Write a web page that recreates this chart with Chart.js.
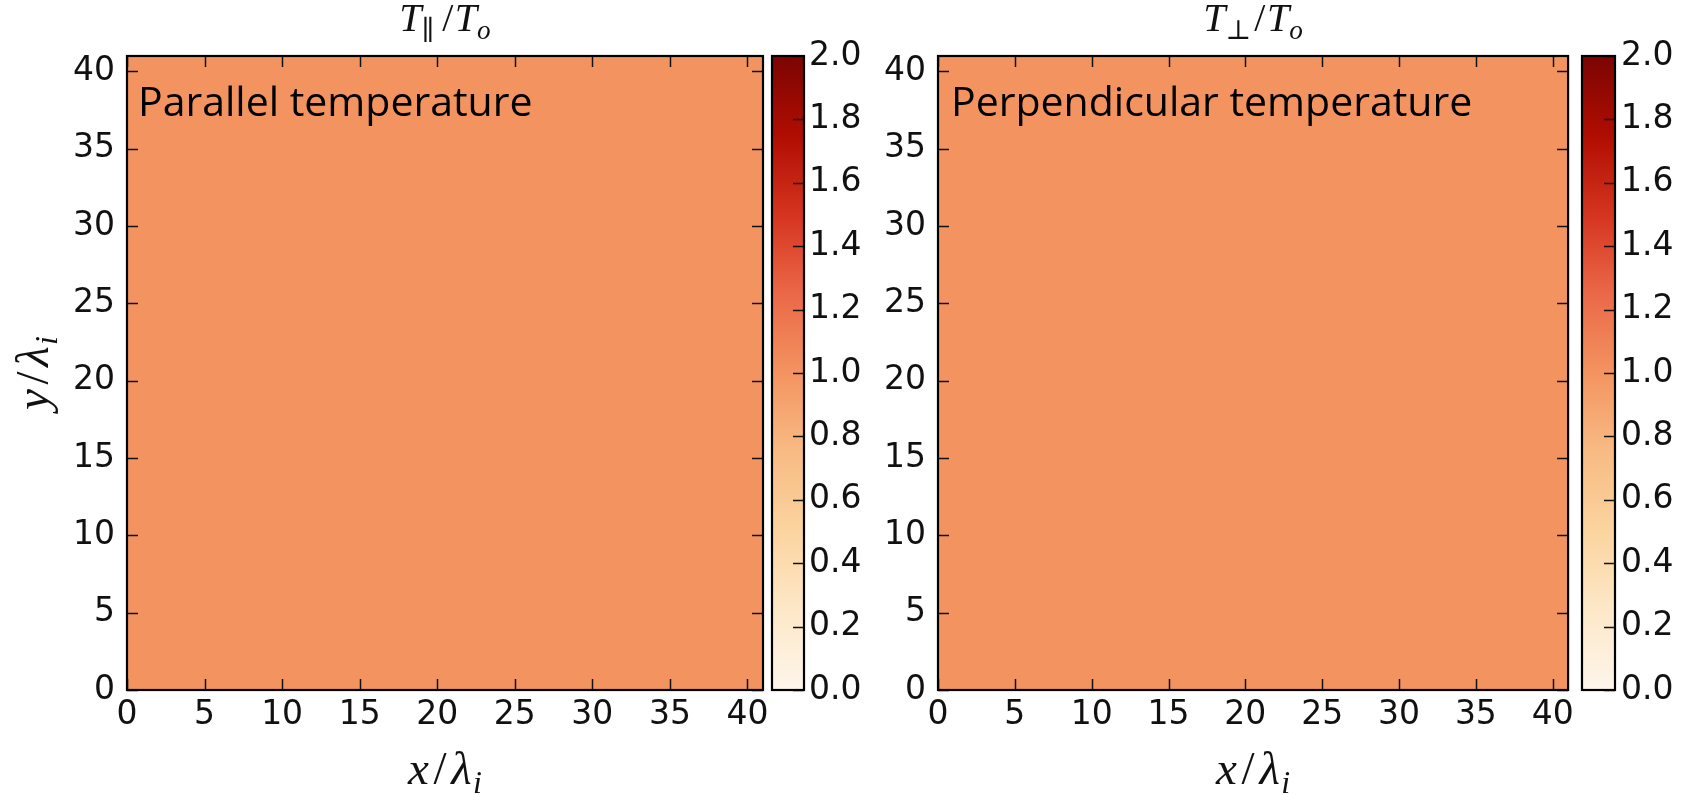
<!DOCTYPE html>
<html><head><meta charset="utf-8">
<script src="https://cdn.jsdelivr.net/npm/chart.js@4.4.1/dist/chart.umd.min.js"></script>
<style>
html,body{margin:0;padding:0;background:#fff;}
#fig{position:relative;width:1689px;height:795px;overflow:hidden;background:#fff;}
canvas{position:absolute;top:0;}
</style></head><body>
<div id="fig">
<canvas id="heatL" width="775" height="795" style="left:0px"></canvas>
<canvas id="cbL" width="120" height="795" style="left:760px"></canvas>
<canvas id="heatR" width="780" height="795" style="left:800px"></canvas>
<canvas id="cbR" width="119" height="795" style="left:1570px"></canvas>
</div>
<script>
// ---------------- data ----------------
const extentX = [0, 41];            // x / lambda_i
const extentY = [0, 41];            // y / lambda_i
const xTickValues = [0, 5, 10, 15, 20, 25, 30, 35, 40];
const xTickLabels = ['0', '5', '10', '15', '20', '25', '30', '35', '40'];
const yTickValues = [0, 5, 10, 15, 20, 25, 30, 35, 40];
const yTickLabels = ['0', '5', '10', '15', '20', '25', '30', '35', '40'];
const colorRange = [0.0, 2.0];
const colorbarTickValues = [0.0, 0.2, 0.4, 0.6, 0.8, 1.0, 1.2, 1.4, 1.6, 1.8, 2.0];
const colorbarTickLabels = ['0.0', '0.2', '0.4', '0.6', '0.8', '1.0', '1.2', '1.4', '1.6', '1.8', '2.0'];
const panelNotes = ['Parallel temperature', 'Perpendicular temperature'];

// T_parallel / T_o  (rows bottom -> top, columns left -> right)
const parallelTemp = [
  [1.00, 1.00, 1.00, 1.00, 1.00, 1.00, 1.00, 1.00],
  [1.00, 1.00, 1.00, 1.00, 1.00, 1.00, 1.00, 1.00],
  [1.00, 1.00, 1.00, 1.00, 1.00, 1.00, 1.00, 1.00],
  [1.00, 1.00, 1.00, 1.00, 1.00, 1.00, 1.00, 1.00],
  [1.00, 1.00, 1.00, 1.00, 1.00, 1.00, 1.00, 1.00],
  [1.00, 1.00, 1.00, 1.00, 1.00, 1.00, 1.00, 1.00],
  [1.00, 1.00, 1.00, 1.00, 1.00, 1.00, 1.00, 1.00],
  [1.00, 1.00, 1.00, 1.00, 1.00, 1.00, 1.00, 1.00]
];
// T_perp / T_o
const perpendicularTemp = [
  [1.00, 1.00, 1.00, 1.00, 1.00, 1.00, 1.00, 1.00],
  [1.00, 1.00, 1.00, 1.00, 1.00, 1.00, 1.00, 1.00],
  [1.00, 1.00, 1.00, 1.00, 1.00, 1.00, 1.00, 1.00],
  [1.00, 1.00, 1.00, 1.00, 1.00, 1.00, 1.00, 1.00],
  [1.00, 1.00, 1.00, 1.00, 1.00, 1.00, 1.00, 1.00],
  [1.00, 1.00, 1.00, 1.00, 1.00, 1.00, 1.00, 1.00],
  [1.00, 1.00, 1.00, 1.00, 1.00, 1.00, 1.00, 1.00],
  [1.00, 1.00, 1.00, 1.00, 1.00, 1.00, 1.00, 1.00]
];

// colormap (OrRd-like, as seen in the picture)
const colormapStops = [
  [0.000, [253, 246, 235]],
  [0.125, [253, 232, 201]],
  [0.250, [251, 212, 159]],
  [0.375, [248, 187, 132]],
  [0.500, [243, 148, 96]],
  [0.625, [234, 104, 72]],
  [0.750, [213, 52, 31]],
  [0.875, [176, 13, 2]],
  [1.000, [123, 5, 2]]
];

// ---------------- helpers ----------------
function colorFor(v) {
  let t = (v - colorRange[0]) / (colorRange[1] - colorRange[0]);
  t = Math.max(0, Math.min(1, t));
  for (let i = 1; i < colormapStops.length; i++) {
    const [t1, c1] = colormapStops[i];
    const [t0, c0] = colormapStops[i - 1];
    if (t <= t1) {
      const f = (t - t0) / (t1 - t0);
      const c = c0.map((a, k) => Math.round(a + (c1[k] - a) * f));
      return `rgb(${c[0]},${c[1]},${c[2]})`;
    }
  }
  const c = colormapStops[colormapStops.length - 1][1];
  return `rgb(${c[0]},${c[1]},${c[2]})`;
}

const TICK_FONT = { family: "'DejaVu Sans', sans-serif", size: 33 };
const TICK_COLOR = '#111';
const MATH_FONT = "'Liberation Serif', 'DejaVu Serif', serif";

function drawMath(ctx, tokens, x, y, size) {
  const sub = 0.68;
  const pieces = tokens.map(tk => {
    if (tk.gap !== undefined) return { gap: tk.gap * size };
    const s = tk.sub ? size * sub : size;
    const font = `${tk.it ? 'italic ' : ''}${s}px ${MATH_FONT}`;
    ctx.font = font;
    return { t: tk.t, font, w: ctx.measureText(tk.t).width, dy: tk.sub ? size * 0.2 : 0 };
  });
  const total = pieces.reduce((a, p) => a + (p.gap !== undefined ? p.gap : p.w), 0);
  let cx = x - total / 2;
  ctx.fillStyle = '#111';
  ctx.textBaseline = 'alphabetic';
  ctx.textAlign = 'left';
  pieces.forEach(p => {
    if (p.gap !== undefined) { cx += p.gap; return; }
    ctx.font = p.font;
    ctx.fillText(p.t, cx, y + p.dy);
    cx += p.w;
  });
}

const framePlugin = {
  id: 'frame',
  afterDatasetsDraw(chart, args, opts) {
    if (!opts || !opts.on) return;
    const { ctx, chartArea: a } = chart;
    const L = 11;
    ctx.save();
    ctx.strokeStyle = '#111';
    ctx.lineWidth = 1.5;
    ctx.beginPath();
    if (opts.kind === 'heat') {
      const xs = chart.scales.x, ys = chart.scales.y;
      xs.ticks.forEach(t => {
        const p = Math.round(xs.getPixelForValue(t.value)) + 0.5;
        ctx.moveTo(p, a.bottom); ctx.lineTo(p, a.bottom - L);
        ctx.moveTo(p, a.top); ctx.lineTo(p, a.top + L);
      });
      ys.ticks.forEach(t => {
        const p = Math.round(ys.getPixelForValue(t.value)) + 0.5;
        ctx.moveTo(a.left, p); ctx.lineTo(a.left + L, p);
        ctx.moveTo(a.right, p); ctx.lineTo(a.right - L, p);
      });
    } else {
      const ys = chart.scales.y;
      ys.ticks.forEach(t => {
        const p = Math.round(ys.getPixelForValue(t.value)) + 0.5;
        ctx.moveTo(a.right, p); ctx.lineTo(a.right - L, p);
      });
    }
    ctx.stroke();
    ctx.lineWidth = 2.2;
    ctx.strokeStyle = '#000';
    ctx.strokeRect(a.left, a.top, a.right - a.left, a.bottom - a.top);
    ctx.restore();
  }
};

const notePlugin = {
  id: 'note',
  afterDatasetsDraw(chart, args, opts) {
    if (!opts || !opts.text) return;
    const { ctx, chartArea: a } = chart;
    ctx.save();
    ctx.font = "41px 'Open Sans', Lato, sans-serif";
    ctx.fillStyle = '#000';
    ctx.textBaseline = 'alphabetic';
    ctx.textAlign = 'left';
    ctx.fillText(opts.text, a.left + opts.dx, opts.baseline);
    ctx.restore();
  }
};

const mathPlugin = {
  id: 'math',
  afterDraw(chart, args, opts) {
    if (!opts || !opts.title) return;
    const { ctx, chartArea: a } = chart;
    const cx = (a.left + a.right) / 2;
    ctx.save();
    drawMath(ctx, opts.title, cx, 31, 40);
    drawMath(ctx, opts.xlabel, cx, 784, 47);
    if (opts.ylabel) {
      ctx.save();
      ctx.translate(48, (a.top + a.bottom) / 2);
      ctx.rotate(-Math.PI / 2);
      drawMath(ctx, opts.ylabel, 0, 0, 47);
      ctx.restore();
    }
    ctx.restore();
  }
};

Chart.register(framePlugin, notePlugin, mathPlugin);

function heatChart(canvasId, matrix, cfg) {
  const ny = matrix.length;
  const dy = (extentY[1] - extentY[0]) / ny;
  const datasets = matrix.map((row, r) => ({
    data: row.map(() => [extentY[0] + r * dy, extentY[0] + (r + 1) * dy]),
    backgroundColor: row.map(v => colorFor(v)),
    borderWidth: 0,
    barPercentage: 1,
    categoryPercentage: 1,
    grouped: false,
    inflateAmount: 0.7,
    xAxisID: 'xc',
    yAxisID: 'y'
  }));
  return new Chart(document.getElementById(canvasId), {
    type: 'bar',
    data: { labels: matrix[0].map((_, i) => 'c' + i), datasets },
    options: {
      responsive: false, animation: false, events: [],
      layout: { padding: { left: 0, top: 56, right: cfg.padRight, bottom: 0 } },
      plugins: {
        legend: { display: false }, tooltip: { enabled: false }, title: { display: false },
        frame: { on: true, kind: 'heat' },
        note: { text: cfg.note, dx: cfg.noteDx, baseline: 116 },
        math: { title: cfg.title, xlabel: cfg.xlabel, ylabel: cfg.ylabel }
      },
      scales: {
        xc: { type: 'category', display: false, offset: true },
        x: {
          type: 'linear', position: 'bottom', min: extentX[0], max: extentX[1], offset: false,
          afterBuildTicks: s => { s.ticks = xTickValues.map(v => ({ value: v })); },
          afterFit: s => { s.height = 105; },
          ticks: { font: TICK_FONT, color: TICK_COLOR, padding: 6, maxRotation: 0, autoSkip: false,
                   callback: (v, i) => xTickLabels[i] },
          grid: { display: false, drawTicks: false, offset: false }, border: { display: false }
        },
        y: {
          type: 'linear', position: 'left', min: extentY[0], max: extentY[1], offset: false,
          afterBuildTicks: s => { s.ticks = yTickValues.map(v => ({ value: v })); },
          afterFit: s => { s.width = cfg.yWidth; },
          ticks: { font: TICK_FONT, color: TICK_COLOR, padding: 12, autoSkip: false,
                   callback: (v, i) => yTickLabels[i] },
          grid: { display: false, drawTicks: false }, border: { display: false }
        }
      }
    }
  });
}

function colorbarChart(canvasId, cfg) {
  return new Chart(document.getElementById(canvasId), {
    type: 'bar',
    data: {
      labels: ['cb'],
      datasets: [{
        data: [colorRange],
        backgroundColor: (ctx) => {
          const chart = ctx.chart;
          const ys = chart.scales.y;
          if (!chart.chartArea || !ys) return colorFor(1);
          const g = chart.ctx.createLinearGradient(0, ys.getPixelForValue(colorRange[0]), 0, ys.getPixelForValue(colorRange[1]));
          colormapStops.forEach(([t, c]) => g.addColorStop(t, `rgb(${c[0]},${c[1]},${c[2]})`));
          return g;
        },
        borderWidth: 0, barPercentage: 1, categoryPercentage: 1, inflateAmount: 0
      }]
    },
    options: {
      responsive: false, animation: false, events: [],
      layout: { padding: { left: cfg.padLeft, top: 56, right: 0, bottom: 105 } },
      plugins: { legend: { display: false }, tooltip: { enabled: false }, title: { display: false },
                 frame: { on: true, kind: 'cb' } },
      scales: {
        x: { display: false, offset: true },
        y: {
          type: 'linear', position: 'right', min: colorRange[0], max: colorRange[1],
          afterBuildTicks: s => { s.ticks = colorbarTickValues.map(v => ({ value: v })); },
          afterFit: s => { s.width = cfg.yWidth; },
          ticks: { font: TICK_FONT, color: TICK_COLOR, padding: cfg.labelPad, autoSkip: false,
                   callback: (v, i) => colorbarTickLabels[i] },
          grid: { display: false, drawTicks: false }, border: { display: false }
        }
      }
    }
  });
}

const tPar = [{ t: 'T', it: true }, { t: '\u2225', sub: true }, { gap: 0.2 }, { t: '/' }, { gap: 0.04 }, { t: 'T', it: true }, { t: 'o', it: true, sub: true }];
const tPerp = [{ t: 'T', it: true }, { t: '\u22A5', sub: true }, { gap: 0.08 }, { t: '/' }, { gap: 0.04 }, { t: 'T', it: true }, { t: 'o', it: true, sub: true }];
const xLab = [{ t: 'x', it: true }, { gap: 0.1 }, { t: '/' }, { gap: 0.1 }, { t: '\u03BB', it: true }, { gap: 0.03 }, { t: 'i', it: true, sub: true }];
const yLab = [{ t: 'y', it: true }, { gap: 0.1 }, { t: '/' }, { gap: 0.1 }, { t: '\u03BB', it: true }, { gap: 0.03 }, { t: 'i', it: true, sub: true }];

heatChart('heatL', parallelTemp, { padRight: 12, yWidth: 127, note: panelNotes[0], noteDx: 11, title: tPar, xlabel: xLab, ylabel: yLab });
colorbarChart('cbL', { padLeft: 12, yWidth: 76, labelPad: 5 });
heatChart('heatR', perpendicularTemp, { padRight: 7, yWidth: 138, note: panelNotes[1], noteDx: 13, title: tPerp, xlabel: xLab, ylabel: null });
colorbarChart('cbR', { padLeft: 12, yWidth: 74, labelPad: 6 });
</script>
</body></html>
